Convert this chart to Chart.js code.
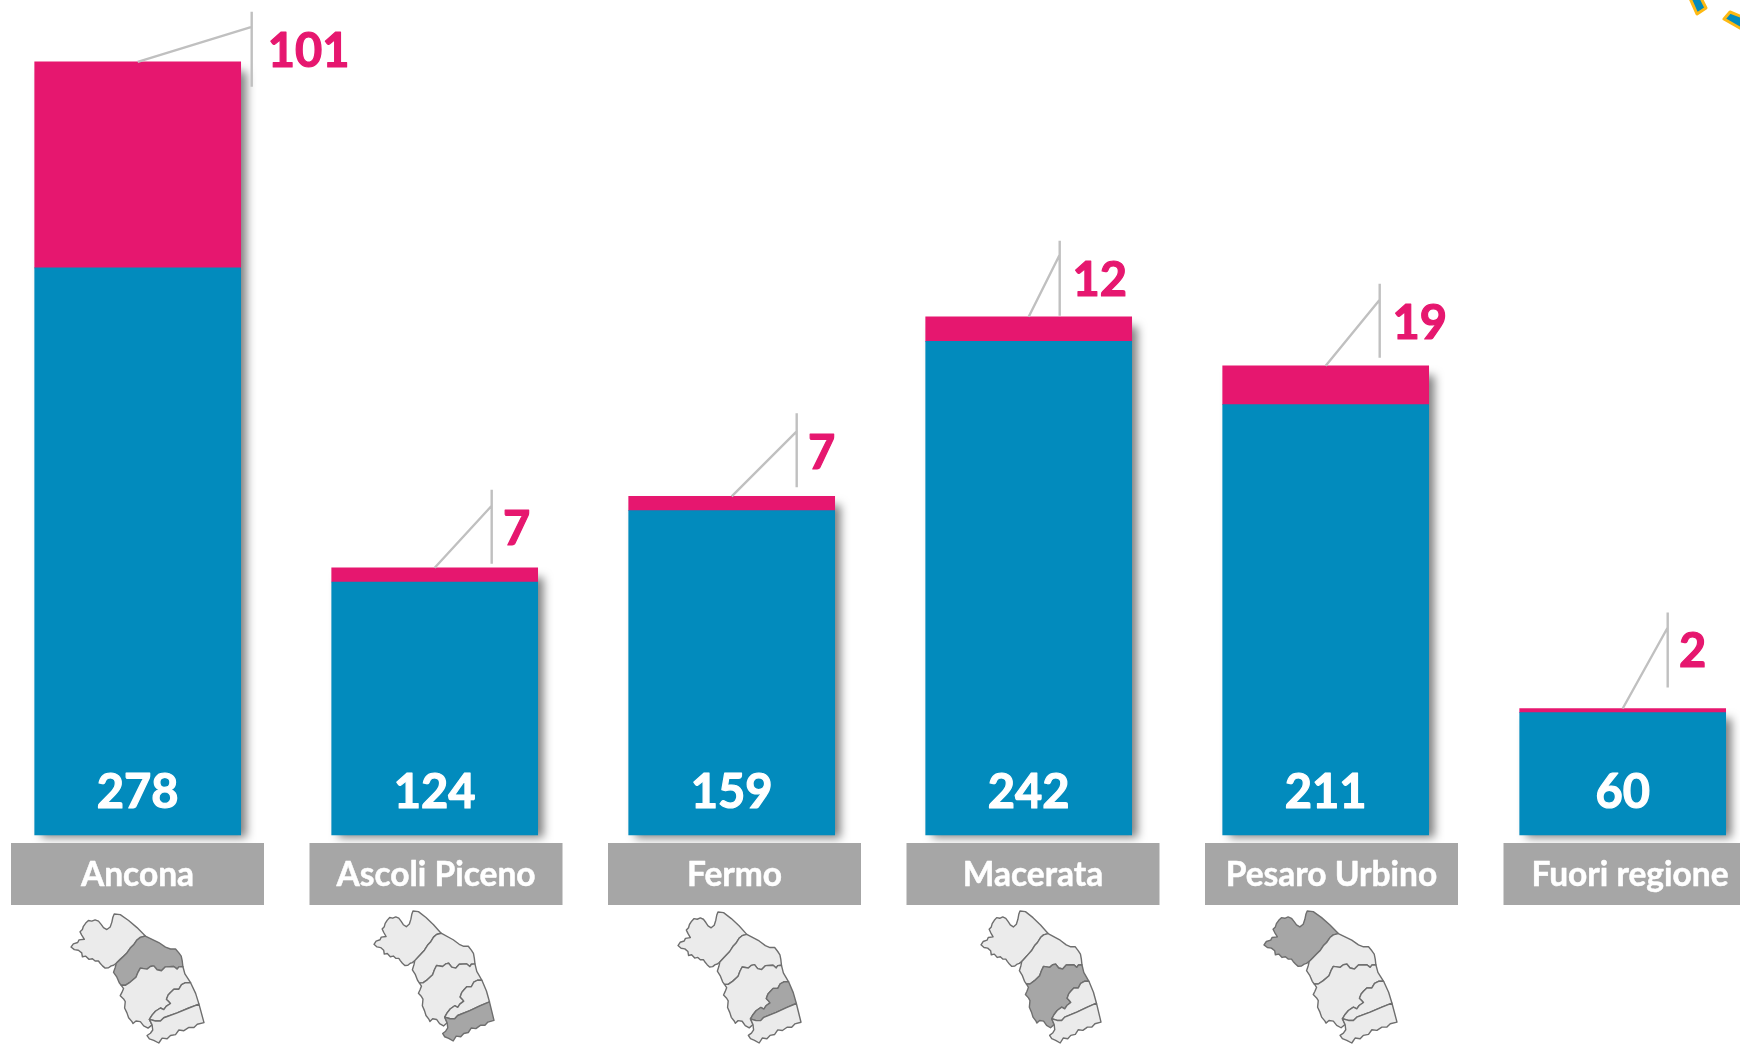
<!DOCTYPE html>
<html>
<head>
<meta charset="utf-8">
<style>
  html, body { margin: 0; background: #fff; }
  canvas { display: block; }
</style>
</head>
<body>
<canvas id="myChart" width="1740" height="1044"></canvas>
<script src="https://cdn.jsdelivr.net/npm/chart.js@4/dist/chart.umd.min.js"></script>
<script>
// values
const categories = ['Ancona', 'Ascoli Piceno', 'Fermo', 'Macerata', 'Pesaro Urbino', 'Fuori regione'];
const blueValues = [278, 124, 159, 242, 211, 60];
const pinkValues = [101, 7, 7, 12, 19, 2];

const BLUE = '#028bbd';
const PINK = '#e6176f';
const GREY = '#a6a6a6';
const FONT = 'Lato, "Open Sans", sans-serif';

// callouts, offsets in px from bar centre / top of stack
const calloutDx = [114, 57, 65, 31, 54, 45];
const calloutTop = [50, 78, 83, 76, 82, 96];
const calloutBottom = [-25, 4, 9, 1, 8, 21];
const calloutElbow = [35, 62, 65, 62, 66, 81];
const labelDx = [171, 82, 90, 71, 94, 70];
const labelRise = [10, 38, 43, 36, 42, 57];

// little maps of the Marche, traced at 3x, one list per stretch of border
const puWest = [[163,172],[155,178],[148,180],[140,186],[130,187],[122,180],[115,172],[110,165],[100,165],[92,158],[82,160],[72,150],[62,152],[60,140],[50,132],[38,130],[28,122],[35,112],[48,108],[52,100],[68,98],[60,85],[55,75],[62,68],[65,58],[72,48],[80,40],[90,42],[100,38],[110,42],[118,52],[125,62],[135,68],[145,60],[150,45],[153,30],[157,20],[175,22],[200,40],[225,62]];
const puAn = [[250,88],[235,92],[225,100],[215,115],[205,125],[195,140],[185,150],[175,160]];
const anCoast = [[250,88],[290,108],[310,122],[325,128],[340,128],[350,140],[357,150],[360,165]];
const anMc = [[362,182],[350,183],[345,190],[335,182],[310,183],[298,195],[285,192],[275,180],[265,182],[255,190],[235,187],[228,200],[222,215],[205,230],[190,240]];
const anWest = [[178,240],[172,232],[165,215],[155,200],[160,185]];
const mcCoast = [[362,182],[368,205]];
const mcFm = [[385,232],[370,232],[358,238],[350,252],[335,252],[325,262],[318,270],[313,283],[320,290],[325,296],[312,305],[305,315],[295,310],[280,320],[270,332]];
const mcWest = [[262,345],[270,362],[258,372],[245,365],[235,352],[222,350],[213,358],[210,352],[200,340],[195,325],[188,310],[190,290],[185,282],[175,272],[180,262],[185,250]];
const fmCoast = [[385,232],[400,265]];
const fmAp = [[410,298],[380,310],[345,325],[305,340],[295,350],[280,350]];
const apSouth = [[410,298],[425,355],[405,360],[395,370],[380,370],[365,380],[350,378],[340,392],[325,395],[315,405],[300,403],[290,418],[275,410],[262,405],[255,395],[265,388],[272,378],[270,362]];

function back(list) {
    return list.slice().reverse();
}

const provinces = {
    PU: puWest.concat(puAn),
    AN: anCoast.concat(anMc, anWest, [[163,172]], back(puAn)),
    MC: mcCoast.concat(mcFm, mcWest, [[178,240]], back(anMc)),
    FM: fmCoast.concat(fmAp, [[262,345]], back(mcFm)),
    AP: apSouth.concat([[262,345]], back(fmAp))
};
const mapHighlight = ['AN', 'AP', 'FM', 'MC', 'PU'];
const mapBoxes = [
    [71, 914, 204, 1043],
    [374, 911, 494, 1041],
    [678, 912, 801, 1043],
    [981, 911, 1101, 1043],
    [1264, 911, 1397, 1043]
];

const boxFirst = 137.5;
const boxStep = 298.5;

function drawMap(ctx, box, highlight) {
    const sx = (box[2] - box[0]) / 397;
    const sy = (box[3] - box[1]) / 398;
    Object.keys(provinces).forEach(function (name) {
        ctx.beginPath();
        provinces[name].forEach(function (p) {
            ctx.lineTo(box[0] + (p[0] - 28) * sx, box[1] + (p[1] - 20) * sy);
        });
        ctx.closePath();
        ctx.fillStyle = name === highlight ? GREY : '#ebebeb';
        ctx.fill();
        ctx.strokeStyle = '#6e6e6e';
        ctx.lineWidth = 1.4;
        ctx.lineJoin = 'round';
        ctx.stroke();
    });
}

// soft shadow behind each stack, the bars are painted over it
const shadowPlugin = {
    id: 'shadow',
    beforeDatasetsDraw(chart) {
        const ctx = chart.ctx;
        const x = chart.scales.x;
        const y = chart.scales.y;
        ctx.save();
        ctx.shadowColor = 'rgba(0,0,0,0.5)';
        ctx.shadowOffsetX = 6;
        ctx.shadowOffsetY = 3;
        ctx.shadowBlur = 9;
        ctx.fillStyle = '#fff';
        categories.forEach(function (c, i) {
            const top = y.getPixelForValue(blueValues[i] + pinkValues[i]);
            ctx.fillRect(x.getPixelForValue(i) - 103, top + 6, 206, y.getPixelForValue(0) - top - 6);
        });
        ctx.restore();
    }
};

// bold text with a thin outline, the original face is heavier than Lato Bold
function heavyText(ctx, text, x, y, colour, outline) {
    ctx.fillStyle = colour;
    ctx.strokeStyle = colour;
    ctx.lineWidth = outline;
    ctx.lineJoin = 'round';
    ctx.strokeText(text, x, y);
    ctx.fillText(text, x, y);
}

const decorPlugin = {
    id: 'decor',
    afterDatasetsDraw(chart) {
        const ctx = chart.ctx;
        const x = chart.scales.x;
        const y = chart.scales.y;
        ctx.save();
        ctx.textAlign = 'center';
        ctx.textBaseline = 'middle';

        categories.forEach(function (c, i) {
            const cx = x.getPixelForValue(i);
            const top = y.getPixelForValue(blueValues[i] + pinkValues[i]);

            // callout lines
            const lx = cx + calloutDx[i];
            ctx.strokeStyle = '#c0c0c0';
            ctx.lineWidth = 2.4;
            ctx.beginPath();
            ctx.moveTo(lx, top - calloutTop[i]);
            ctx.lineTo(lx, top - calloutBottom[i]);
            ctx.moveTo(cx, top);
            ctx.lineTo(lx, top - calloutElbow[i]);
            ctx.stroke();

            ctx.font = 'bold 47px ' + FONT;
            heavyText(ctx, pinkValues[i], cx + labelDx[i], top - labelRise[i], PINK, 1.2);
            heavyText(ctx, blueValues[i], cx, y.getPixelForValue(0) - 42, '#fff', 1.2);

            // grey category box
            const bx = boxFirst + boxStep * i;
            ctx.fillStyle = GREY;
            ctx.fillRect(bx - 126.5, 843, 253, 62);
            ctx.font = 'bold 33.5px ' + FONT;
            heavyText(ctx, c, bx, 875, '#fff', 0.5);

            if (mapBoxes[i]) {
                drawMap(ctx, mapBoxes[i], mapHighlight[i]);
            }
        });

        // bit of a logo cut by the top right corner
        ctx.fillStyle = BLUE;
        ctx.strokeStyle = '#fdb913';
        ctx.lineWidth = 3;
        [[[1689, -4], [1700, -4], [1706, 8], [1697, 14]], [[1724, 19], [1730, 12], [1745, 18], [1745, 31]]].forEach(function (piece) {
            ctx.beginPath();
            piece.forEach(function (p) { ctx.lineTo(p[0], p[1]); });
            ctx.closePath();
            ctx.fill();
            ctx.stroke();
        });
        ctx.restore();
    }
};

new Chart(document.getElementById('myChart').getContext('2d'), {
    type: 'bar',
    data: {
        labels: categories,
        datasets: [
            { label: 'blue', data: blueValues, backgroundColor: BLUE, barThickness: 206, clip: false },
            { label: 'pink', data: pinkValues, backgroundColor: PINK, barThickness: 206, clip: false }
        ]
    },
    options: {
        responsive: false,
        animation: false,
        layout: { padding: { left: 137.7, right: 117.3, top: 0, bottom: 209 } },
        plugins: {
            legend: { display: false },
            tooltip: { enabled: false }
        },
        scales: {
            x: { display: false, stacked: true, offset: false },
            y: { display: false, stacked: true, min: 0, max: 409.3 }
        }
    },
    plugins: [shadowPlugin, decorPlugin]
});
</script>
</body>
</html>
